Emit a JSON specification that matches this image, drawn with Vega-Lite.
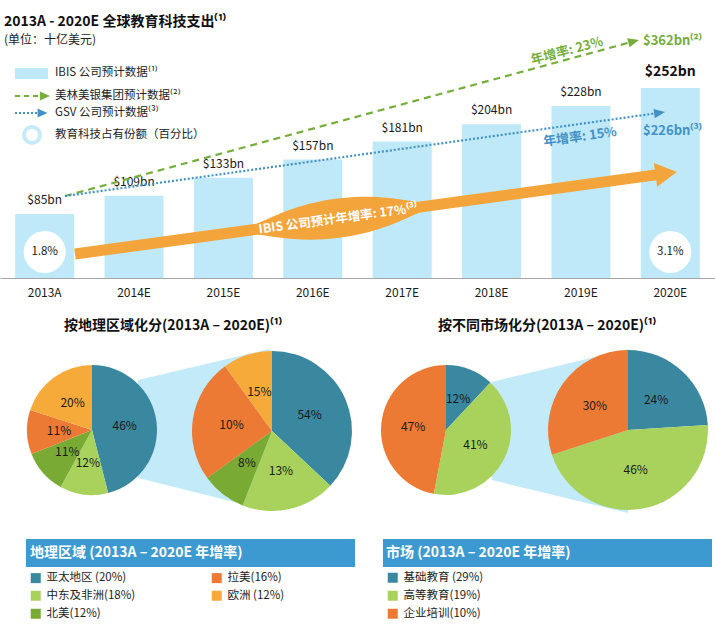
{
  "$schema": "https://vega.github.io/schema/vega-lite/v6.json",
  "padding": 0,
  "background": "#ffffff",
  "spacing": 30,
  "bounds": "flush",
  "datasets": {
    "spend": [
      {"year": "2013A", "spend": 85, "edshare": 0.018},
      {"year": "2014E", "spend": 109},
      {"year": "2015E", "spend": 133},
      {"year": "2016E", "spend": 157},
      {"year": "2017E", "spend": 181},
      {"year": "2018E", "spend": 204},
      {"year": "2019E", "spend": 228},
      {"year": "2020E", "spend": 252, "edshare": 0.031}
    ],
    "geo": [
      {"period": "2013A", "region": "亚太地区", "ord": 1, "slice": 0.46, "share": 0.46},
      {"period": "2013A", "region": "中东及非洲", "ord": 2, "slice": 0.12, "share": 0.12},
      {"period": "2013A", "region": "北美", "ord": 3, "slice": 0.11, "share": 0.11},
      {"period": "2013A", "region": "拉美", "ord": 4, "slice": 0.11, "share": 0.11},
      {"period": "2013A", "region": "欧洲", "ord": 5, "slice": 0.20, "share": 0.20},
      {"period": "2020E", "region": "亚太地区", "ord": 1, "slice": 0.37, "share": 0.54},
      {"period": "2020E", "region": "中东及非洲", "ord": 2, "slice": 0.19, "share": 0.13},
      {"period": "2020E", "region": "北美", "ord": 3, "slice": 0.09, "share": 0.08},
      {"period": "2020E", "region": "拉美", "ord": 4, "slice": 0.25, "share": 0.10},
      {"period": "2020E", "region": "欧洲", "ord": 5, "slice": 0.10, "share": 0.15}
    ],
    "market": [
      {"period": "2013A", "segment": "基础教育", "ord": 1, "slice": 0.12, "share": 0.12},
      {"period": "2013A", "segment": "高等教育", "ord": 2, "slice": 0.41, "share": 0.41},
      {"period": "2013A", "segment": "企业培训", "ord": 3, "slice": 0.47, "share": 0.47},
      {"period": "2020E", "segment": "基础教育", "ord": 1, "slice": 0.24, "share": 0.24},
      {"period": "2020E", "segment": "高等教育", "ord": 2, "slice": 0.46, "share": 0.46},
      {"period": "2020E", "segment": "企业培训", "ord": 3, "slice": 0.30, "share": 0.30}
    ]
  },
  "vconcat": [
    {
      "width": 715,
      "height": 278,
      "resolve": {"scale": {"x": "independent"}},
      "layer": [
        {
          "data": {"name": "spend"},
          "encoding": {
            "x": {"field": "year", "type": "ordinal", "scale": {"paddingInner": 0.34, "paddingOuter": 0.17},
                  "axis": {"title": null, "ticks": false, "domainColor": "#a6a6a6", "labelFontSize": 12, "labelColor": "#1a1a1a", "labelPadding": 9, "labelAngle": 0}}
          },
          "layer": [
            {"mark": {"type": "bar", "color": "#bfe9f8"},
             "encoding": {"y": {"field": "spend", "type": "quantitative", "scale": {"domain": [0, 368.7], "nice": false, "zero": true}, "axis": null}}},
            {"transform": [{"filter": "datum.year != '2020E'"}],
             "mark": {"type": "text", "baseline": "bottom", "dy": -7, "fontSize": 12, "color": "#1a1a1a"},
             "encoding": {"y": {"field": "spend", "type": "quantitative", "axis": null}, "text": {"field": "spend", "type": "quantitative", "format": "$d"}}},
            {"transform": [{"filter": "datum.year == '2020E'"}],
             "mark": {"type": "text", "baseline": "bottom", "dy": -9, "fontSize": 14, "fontWeight": "bold", "color": "#111111"},
             "encoding": {"y": {"field": "spend", "type": "quantitative", "axis": null}, "text": {"field": "spend", "type": "quantitative", "format": "$d"}}},
            {"transform": [{"filter": "isValid(datum.edshare)"}],
             "mark": {"type": "point", "shape": "circle", "filled": true, "color": "#ffffff", "opacity": 1, "size": 1764, "strokeWidth": 0},
             "encoding": {"y": {"datum": 34.5, "type": "quantitative", "axis": null}}},
            {"transform": [{"filter": "isValid(datum.edshare)"}],
             "mark": {"type": "text", "fontSize": 11.5, "color": "#1a1a1a"},
             "encoding": {"y": {"datum": 34.5, "type": "quantitative", "axis": null}, "text": {"field": "edshare", "type": "quantitative", "format": ".1%"}}}
          ]
        },
        {
          "data": {"values": [{}]},
          "layer": [
            {"mark": {"type": "text", "align": "left", "baseline": "middle", "fontSize": 14, "fontWeight": "bold", "color": "#111111", "text": "2013A - 2020E 全球教育科技支出⁽¹⁾"},
             "encoding": {"x": {"datum": 0.045, "type": "quantitative", "scale": {"domain": [0, 8], "nice": false, "zero": false}, "axis": null}, "y": {"datum": 340, "type": "quantitative", "axis": null}}},
            {"mark": {"type": "text", "align": "left", "baseline": "middle", "fontSize": 12, "color": "#222222", "text": "(单位：十亿美元)"},
             "encoding": {"x": {"datum": 0.045, "axis": null}, "y": {"datum": 315.5, "axis": null}}},
            {"mark": {"type": "rect", "color": "#bfe9f8"},
             "encoding": {"x": {"datum": 0.168, "axis": null}, "x2": {"datum": 0.537}, "y": {"datum": 278.5, "axis": null}, "y2": {"datum": 263.9}}},
            {"mark": {"type": "text", "align": "left", "baseline": "middle", "fontSize": 11.5, "color": "#222222", "text": "IBIS 公司预计数据⁽¹⁾"},
             "encoding": {"x": {"datum": 0.615, "axis": null}, "y": {"datum": 271.9, "axis": null}}},
            {"mark": {"type": "rule", "color": "#76ad3b", "strokeWidth": 2, "strokeDash": [5, 4]},
             "encoding": {"x": {"datum": 0.168, "axis": null}, "x2": {"datum": 0.448}, "y": {"datum": 241.4, "axis": null}}},
            {"mark": {"type": "point", "shape": "M-1,-0.9L1,0L-1,0.9Z", "filled": true, "opacity": 1, "color": "#76ad3b", "size": 100, "strokeWidth": 0},
             "encoding": {"x": {"datum": 0.503, "axis": null}, "y": {"datum": 241.4, "axis": null}}},
            {"mark": {"type": "text", "align": "left", "baseline": "middle", "fontSize": 11.5, "color": "#222222", "text": "美林美银集团预计数据⁽²⁾"},
             "encoding": {"x": {"datum": 0.615, "axis": null}, "y": {"datum": 241.4, "axis": null}}},
            {"mark": {"type": "rule", "color": "#4391c6", "strokeWidth": 2, "strokeDash": [2, 2]},
             "encoding": {"x": {"datum": 0.168, "axis": null}, "x2": {"datum": 0.425}, "y": {"datum": 218.8, "axis": null}}},
            {"mark": {"type": "point", "shape": "M-1,-0.9L1,0L-1,0.9Z", "filled": true, "opacity": 1, "color": "#4391c6", "size": 100, "strokeWidth": 0},
             "encoding": {"x": {"datum": 0.476, "axis": null}, "y": {"datum": 218.8, "axis": null}}},
            {"mark": {"type": "text", "align": "left", "baseline": "middle", "fontSize": 11.5, "color": "#222222", "text": "GSV 公司预计数据⁽³⁾"},
             "encoding": {"x": {"datum": 0.615, "axis": null}, "y": {"datum": 218.8, "axis": null}}},
            {"mark": {"type": "point", "shape": "circle", "filled": false, "opacity": 1, "color": "#c6eaf8", "size": 256, "strokeWidth": 4},
             "encoding": {"x": {"datum": 0.358, "axis": null}, "y": {"datum": 189.6, "axis": null}}},
            {"mark": {"type": "text", "align": "left", "baseline": "middle", "fontSize": 11.5, "color": "#222222", "text": "教育科技占有份额（百分比）"},
             "encoding": {"x": {"datum": 0.615, "axis": null}, "y": {"datum": 189.6, "axis": null}}},
            {"mark": {"type": "rule", "color": "#76ad3b", "strokeWidth": 2.2, "strokeDash": [7, 5]},
             "encoding": {"x": {"datum": 0.727, "axis": null}, "x2": {"datum": 7.09}, "y": {"datum": 108.7, "axis": null}, "y2": {"datum": 313.8}}},
            {"mark": {"type": "point", "shape": "M-1,-0.85L1,0L-1,0.85Z", "filled": true, "opacity": 1, "color": "#76ad3b", "size": 121, "strokeWidth": 0, "angle": 344.8},
             "encoding": {"x": {"datum": 7.09, "axis": null}, "y": {"datum": 313.8, "axis": null}}},
            {"mark": {"type": "rule", "color": "#4391c6", "strokeWidth": 2.2, "strokeDash": [2, 2]},
             "encoding": {"x": {"datum": 0.727, "axis": null}, "x2": {"datum": 7.38}, "y": {"datum": 108.7, "axis": null}, "y2": {"datum": 219.1}}},
            {"mark": {"type": "point", "shape": "M-1,-0.85L1,0L-1,0.85Z", "filled": true, "opacity": 1, "color": "#4391c6", "size": 121, "strokeWidth": 0, "angle": 352},
             "encoding": {"x": {"datum": 7.38, "axis": null}, "y": {"datum": 219.1, "axis": null}}},
            {"mark": {"type": "rule", "color": "#f3a43a", "strokeWidth": 11},
             "encoding": {"x": {"datum": 0.839, "axis": null}, "x2": {"datum": 7.441}, "y": {"datum": 31.8, "axis": null}, "y2": {"datum": 138.4}}},
            {"mark": {"type": "point", "shape": "M-0.8,-1L1,0L-0.8,1Z", "filled": true, "opacity": 1, "color": "#f3a43a", "size": 576, "strokeWidth": 0, "angle": 352.24},
             "encoding": {"x": {"datum": 7.441, "axis": null}, "y": {"datum": 138.4, "axis": null}}},
            {"mark": {"type": "point", "shape": "M-1,0C-0.7,0 -0.5,-0.17 0,-0.17C0.5,-0.17 0.7,0 1,0C0.7,0 0.5,0.17 0,0.17C-0.5,0.17 -0.7,0 -1,0Z", "filled": true, "opacity": 1, "color": "#f3a43a", "size": 52900, "strokeWidth": 0, "angle": 352.24},
             "encoding": {"x": {"datum": 3.782, "axis": null}, "y": {"datum": 79.3, "axis": null}}},
            {"mark": {"type": "text", "baseline": "middle", "fontSize": 12.5, "fontWeight": "bold", "color": "#ffffff", "angle": 352.24, "text": "IBIS 公司预计年增率: 17%⁽³⁾"},
             "encoding": {"x": {"datum": 3.782, "axis": null}, "y": {"datum": 78.5, "axis": null}}},
            {"mark": {"type": "text", "baseline": "middle", "fontSize": 13, "fontWeight": "bold", "color": "#76ad3b", "angle": 344.8, "text": "年增率: 23%"},
             "encoding": {"x": {"datum": 6.344, "axis": null}, "y": {"datum": 301, "axis": null}}},
            {"mark": {"type": "text", "baseline": "middle", "fontSize": 13, "fontWeight": "bold", "color": "#4391c6", "angle": 352, "text": "年增率: 15%"},
             "encoding": {"x": {"datum": 6.49, "axis": null}, "y": {"datum": 187, "axis": null}}},
            {"mark": {"type": "text", "align": "left", "baseline": "middle", "fontSize": 13, "fontWeight": "bold", "color": "#76ad3b", "text": "$362bn⁽²⁾"},
             "encoding": {"x": {"datum": 7.194, "axis": null}, "y": {"datum": 314.3, "axis": null}}},
            {"mark": {"type": "text", "align": "left", "baseline": "middle", "fontSize": 13, "fontWeight": "bold", "color": "#4391c6", "text": "$226bn⁽³⁾"},
             "encoding": {"x": {"datum": 7.194, "axis": null}, "y": {"datum": 194.9, "axis": null}}}
          ]
        }
      ]
    },
    {
      "hconcat": [
        {
          "width": 357,
          "height": 325,
          "layer": [
            {"data": {"values": [{}]},
             "mark": {"type": "point", "shape": "M-0.815,-0.617L0.815,-1L0.815,1L-0.815,0.593Z", "filled": true, "opacity": 1, "color": "#c2eaf8", "size": 26244, "strokeWidth": 0},
             "encoding": {"x": {"datum": 204, "type": "quantitative", "scale": {"domain": [0, 357], "nice": false, "zero": false}, "axis": null},
                          "y": {"datum": 122, "type": "quantitative", "scale": {"domain": [0, 325], "nice": false, "zero": false, "reverse": true}, "axis": null}}},
            {"data": {"name": "geo"},
             "transform": [{"filter": "datum.period == '2013A'"}],
             "encoding": {"x": {"datum": 92, "axis": null}, "y": {"datum": 122, "axis": null},
                          "theta": {"field": "slice", "type": "quantitative", "stack": true},
                          "order": {"field": "ord", "type": "quantitative"}},
             "layer": [
               {"mark": {"type": "arc", "outerRadius": 65},
                "encoding": {"color": {"field": "region", "type": "nominal",
                  "scale": {"domain": ["亚太地区", "中东及非洲", "北美", "拉美", "欧洲"], "range": ["#3a87a0", "#a8d25c", "#79aa33", "#ec7a35", "#f6aa3a"]},
                  "legend": {"orient": "none", "legendX": 30, "legendY": 264, "columns": 2, "columnPadding": 75, "rowPadding": 5, "title": null,
                             "labelExpr": "{'亚太地区':'亚太地区 (20%)','拉美':'拉美(16%)','中东及非洲':'中东及非洲(18%)','欧洲':'欧洲 (12%)','北美':'北美(12%)'}[datum.label]"}}}},
               {"mark": {"type": "text", "radius": 33, "fontSize": 12, "color": "#1a1a1a"},
                "encoding": {"text": {"field": "share", "type": "quantitative", "format": ".0%"}}}
             ]},
            {"data": {"name": "geo"},
             "transform": [{"filter": "datum.period == '2020E'"}],
             "encoding": {"x": {"datum": 272, "axis": null}, "y": {"datum": 123, "axis": null},
                          "theta": {"field": "slice", "type": "quantitative", "stack": true},
                          "order": {"field": "ord", "type": "quantitative"}},
             "layer": [
               {"mark": {"type": "arc", "outerRadius": 80},
                "encoding": {"color": {"field": "region", "type": "nominal"}}},
               {"mark": {"type": "text", "radius": 41, "fontSize": 12, "color": "#1a1a1a"},
                "encoding": {"text": {"field": "share", "type": "quantitative", "format": ".0%"}}}
             ]},
            {"data": {"values": [{}]},
             "mark": {"type": "text", "baseline": "middle", "fontSize": 14, "fontWeight": "bold", "color": "#111111", "text": "按地理区域化分(2013A – 2020E)⁽¹⁾"},
             "encoding": {"x": {"datum": 173, "axis": null}, "y": {"datum": 18, "axis": null}}},
            {"data": {"values": [{}]},
             "mark": {"type": "rect", "color": "#3d9ad1"},
             "encoding": {"x": {"datum": 26, "axis": null}, "x2": {"datum": 355}, "y": {"datum": 231, "axis": null}, "y2": {"datum": 259}}},
            {"data": {"values": [{}]},
             "mark": {"type": "text", "align": "left", "baseline": "middle", "fontSize": 14, "fontWeight": "bold", "color": "#ffffff", "text": "地理区域 (2013A – 2020E 年增率)"},
             "encoding": {"x": {"datum": 30, "axis": null}, "y": {"datum": 245, "axis": null}}}
          ]
        },
        {
          "width": 357,
          "height": 325,
          "layer": [
            {"data": {"values": [{}]},
             "mark": {"type": "point", "shape": "M-0.829,-0.598L0.829,-1L0.829,1L-0.829,0.598Z", "filled": true, "opacity": 1, "color": "#c2eaf8", "size": 26896, "strokeWidth": 0},
             "encoding": {"x": {"datum": 202, "type": "quantitative", "scale": {"domain": [0, 357], "nice": false, "zero": false}, "axis": null},
                          "y": {"datum": 123, "type": "quantitative", "scale": {"domain": [0, 325], "nice": false, "zero": false, "reverse": true}, "axis": null}}},
            {"data": {"name": "market"},
             "transform": [{"filter": "datum.period == '2013A'"}],
             "encoding": {"x": {"datum": 88, "axis": null}, "y": {"datum": 122, "axis": null},
                          "theta": {"field": "slice", "type": "quantitative", "stack": true},
                          "order": {"field": "ord", "type": "quantitative"}},
             "layer": [
               {"mark": {"type": "arc", "outerRadius": 65},
                "encoding": {"color": {"field": "segment", "type": "nominal",
                  "scale": {"domain": ["基础教育", "高等教育", "企业培训"], "range": ["#3a87a0", "#a8d25c", "#ec7a35"]},
                  "legend": {"orient": "none", "legendX": 29, "legendY": 264, "direction": "vertical", "rowPadding": 5, "title": null,
                             "labelExpr": "{'基础教育':'基础教育 (29%)','高等教育':'高等教育(19%)','企业培训':'企业培训(10%)'}[datum.label]"}}}},
               {"mark": {"type": "text", "radius": 33, "fontSize": 12, "color": "#1a1a1a"},
                "encoding": {"text": {"field": "share", "type": "quantitative", "format": ".0%"}}}
             ]},
            {"data": {"name": "market"},
             "transform": [{"filter": "datum.period == '2020E'"}],
             "encoding": {"x": {"datum": 270, "axis": null}, "y": {"datum": 122, "axis": null},
                          "theta": {"field": "slice", "type": "quantitative", "stack": true},
                          "order": {"field": "ord", "type": "quantitative"}},
             "layer": [
               {"mark": {"type": "arc", "outerRadius": 80},
                "encoding": {"color": {"field": "segment", "type": "nominal"}}},
               {"mark": {"type": "text", "radius": 41, "fontSize": 12, "color": "#1a1a1a"},
                "encoding": {"text": {"field": "share", "type": "quantitative", "format": ".0%"}}}
             ]},
            {"data": {"values": [{}]},
             "mark": {"type": "text", "baseline": "middle", "fontSize": 14, "fontWeight": "bold", "color": "#111111", "text": "按不同市场化分(2013A – 2020E)⁽¹⁾"},
             "encoding": {"x": {"datum": 189, "axis": null}, "y": {"datum": 18, "axis": null}}},
            {"data": {"values": [{}]},
             "mark": {"type": "rect", "color": "#3d9ad1"},
             "encoding": {"x": {"datum": 25, "axis": null}, "x2": {"datum": 354}, "y": {"datum": 231, "axis": null}, "y2": {"datum": 259}}},
            {"data": {"values": [{}]},
             "mark": {"type": "text", "align": "left", "baseline": "middle", "fontSize": 14, "fontWeight": "bold", "color": "#ffffff", "text": "市场 (2013A – 2020E 年增率)"},
             "encoding": {"x": {"datum": 28, "axis": null}, "y": {"datum": 245, "axis": null}}}
          ]
        }
      ],
      "spacing": 1,
      "bounds": "flush",
      "resolve": {"scale": {"color": "independent", "x": "independent", "y": "independent"}}
    }
  ],
  "config": {
    "font": "Noto Sans CJK SC",
    "view": {"stroke": null, "fill": "#ffffff"},
    "locale": {"number": {"decimal": ".", "thousands": ",", "grouping": [3], "currency": ["$", "bn"]}},
    "legend": {"symbolType": "square", "symbolSize": 100, "labelFontSize": 11.5, "labelColor": "#222222", "padding": 0, "symbolStrokeWidth": 0, "labelOffset": 5}
  }
}
